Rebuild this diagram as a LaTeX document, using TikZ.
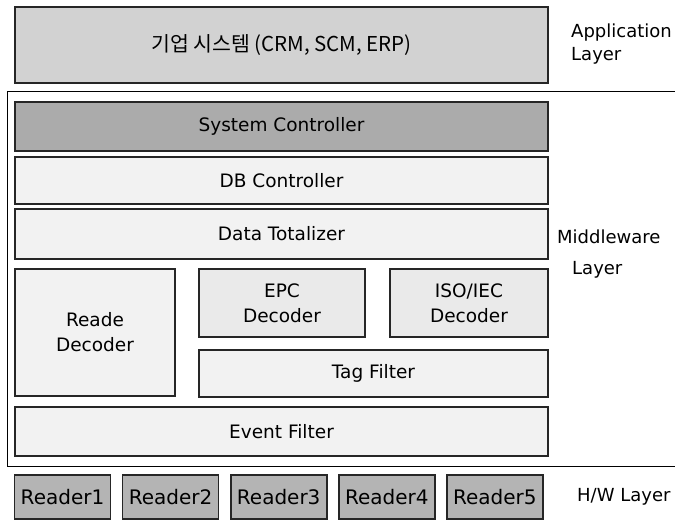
\documentclass[tikz,border=0pt]{standalone}
\usepackage{fontspec}
\setmainfont{DejaVu Sans}
\newfontfamily\korfont{Noto Sans CJK KR}
\usepackage{tikz}

\definecolor{appgray}{HTML}{D2D2D2}
\definecolor{sysgray}{HTML}{ABABAB}
\definecolor{modgray}{HTML}{F2F2F2}
\definecolor{decgray}{HTML}{EAEAEA}
\definecolor{rdrgray}{HTML}{B4B4B4}

\tikzset{
  modbox/.style={draw=black!85, line width=1.6pt, fill=modgray, inner sep=0pt,
    align=center, font=\fontsize{18.5}{25}\selectfont},
  layerlabel/.style={anchor=west, inner sep=0pt, align=left,
    font=\fontsize{18}{23}\selectfont}
}

\begin{document}
\begin{tikzpicture}
  [x=1pt, y=-1pt]
  \useasboundingbox (0,0) rectangle (675,521);

  % application layer
  \node[modbox, fill=appgray, minimum width=533pt, minimum height=76pt,
    font=\fontsize{20.5}{25}\selectfont] (app) at (281.5,45)
    {\korfont 기업 시스템 (CRM, SCM, ERP)};
  \node[layerlabel] (applbl) at (571,44) {Application\\Layer};

  % middleware layer
  \draw[line width=1pt] (675,92) -- (7,92) -- (7,466) -- (675,466);
  \node[modbox, fill=sysgray, minimum width=533pt, minimum height=49pt] (sysctl) at (281.5,126.5) {System Controller};
  \node[modbox, minimum width=533pt, minimum height=47pt] (dbctl) at (281.5,180.5) {DB Controller};
  \node[modbox, minimum width=533pt, minimum height=50pt] (total) at (281.5,234) {Data Totalizer};
  \node[modbox, minimum width=160pt, minimum height=127pt] (rdec) at (95,332.5) {Reade\\Decoder};
  \node[modbox, fill=decgray, minimum width=166pt, minimum height=68pt] (epc) at (282,303) {EPC\\Decoder};
  \node[modbox, fill=decgray, minimum width=158pt, minimum height=68pt] (iso) at (469,303) {ISO/IEC\\Decoder};
  \node[modbox, minimum width=349pt, minimum height=47pt] (tag) at (373.5,373.5) {Tag Filter};
  \node[modbox, minimum width=533pt, minimum height=49pt] (event) at (281.5,431.5) {Event Filter};
  \node[layerlabel] (midlbl) at (557,237) {Middleware};
  \node[layerlabel] (midlbl2) at (572,270) {Layer};

  % h/w layer
  \foreach \i in {1,...,5}
    \node[modbox, fill=rdrgray, minimum width=96pt, minimum height=44pt,
      font=\fontsize{20}{24}\selectfont]
      (rdr\i) at ({62.5+108.1*(\i-1)},497) {Reader\i};
  \node[layerlabel] (hwlbl) at (577,497) {H/W Layer};

\end{tikzpicture}
\end{document}
